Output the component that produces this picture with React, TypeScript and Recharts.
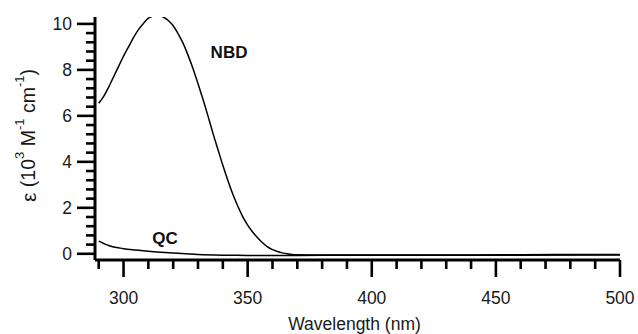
import React from "react";
import { LineChart, Line, XAxis, YAxis, ReferenceDot } from "recharts";

const nbdWavelengths = [290, 292, 294, 296, 298, 300, 302, 304, 306, 308, 310, 312, 314, 316, 318, 320, 322, 324, 326, 328, 330, 332, 334, 336, 338, 340, 342, 344, 346, 348, 350, 352, 354, 356, 358, 360, 362, 364, 366, 368, 370, 380, 400, 420, 440, 460, 480, 500];
const nbdValues = [6.55, 6.85, 7.25, 7.7, 8.15, 8.6, 9.0, 9.4, 9.75, 10.02, 10.25, 10.34, 10.36, 10.3, 10.15, 9.92, 9.57, 9.15, 8.63, 8.05, 7.4, 6.72, 6.0, 5.25, 4.55, 3.85, 3.2, 2.6, 2.08, 1.62, 1.25, 0.95, 0.7, 0.48, 0.3, 0.18, 0.1, 0.04, 0.0, -0.03, -0.04, -0.05, -0.05, -0.05, -0.05, -0.04, -0.03, -0.03];

const qcWavelengths = [290, 292, 294, 296, 298, 300, 305, 310, 315, 320, 325, 330, 340, 350, 370, 400, 450, 500];
const qcValues = [0.55, 0.45, 0.36, 0.3, 0.26, 0.22, 0.16, 0.11, 0.07, 0.03, 0.0, -0.03, -0.06, -0.07, -0.07, -0.06, -0.06, -0.05];

const xTicks = [290, 300, 310, 320, 330, 340, 350, 360, 370, 380, 390, 400, 410, 420, 430, 440, 450, 460, 470, 480, 490, 500];
const xMajor = [300, 350, 400, 450, 500];
const yTicks = [0, 0.4, 0.8, 1.2, 1.6, 2, 2.4, 2.8, 3.2, 3.6, 4, 4.4, 4.8, 5.2, 5.6, 6, 6.4, 6.8, 7.2, 7.6, 8, 8.4, 8.8, 9.2, 9.6, 10];
const yMajor = [0, 2, 4, 6, 8, 10];

const seriesLabels = [
  { name: "NBD", wl: 342.5, v: 8.74 },
  { name: "QC", wl: 316.7, v: 0.65 },
];

const nbdData = nbdWavelengths.map((wl, i) => ({ wl, v: nbdValues[i] }));
const qcData = qcWavelengths.map((wl, i) => ({ wl, v: qcValues[i] }));

const FONT = "'Liberation Sans', Arial, sans-serif";
const TEXT = "#1a1a1a";

const isMajor = (arr: number[], v: number) => arr.some((m) => Math.abs(m - v) < 1e-6);

const XTick = (props: any) => {
  const { x, y, payload } = props;
  const major = isMajor(xMajor, payload.value);
  return (
    <g>
      <line x1={x} x2={x} y1={y} y2={y + (major ? 17 : 9)} stroke="#000" strokeWidth={2.6} />
      {major && (
        <text x={x} y={y + 38} textAnchor="middle" dominantBaseline="central" fontSize={17.5} fontFamily={FONT} fill={TEXT}>
          {payload.value}
        </text>
      )}
    </g>
  );
};

const YTick = (props: any) => {
  const { x, y, payload } = props;
  const major = isMajor(yMajor, payload.value);
  return (
    <g>
      <line x1={x - (major ? 18 : 9)} x2={x} y1={y} y2={y} stroke="#000" strokeWidth={2.6} />
      {major && (
        <text x={x - 23} y={y} textAnchor="end" dominantBaseline="central" fontSize={17.5} fontFamily={FONT} fill={TEXT}>
          {payload.value}
        </text>
      )}
    </g>
  );
};

const XLabel = (props: any) => {
  const vb = props.viewBox || { x: 0, y: 0, width: 0, height: 0 };
  return (
    <text
      x={vb.x + vb.width / 2 - 3}
      y={vb.y + vb.height - 10.5}
      textAnchor="middle"
      dominantBaseline="central"
      fontSize={17.5}
      fontFamily={FONT}
      fill={TEXT}
    >
      Wavelength (nm)
    </text>
  );
};

const YLabel = (props: any) => {
  const vb = props.viewBox || { x: 0, y: 0, width: 0, height: 0 };
  const cx = 28;
  const cy = vb.y + vb.height / 2 - 3;
  return (
    <text
      x={cx}
      y={cy}
      transform={`rotate(-90, ${cx}, ${cy})`}
      textAnchor="middle"
      dominantBaseline="central"
      fontSize={19.5}
      fontFamily={FONT}
      fill={TEXT}
    >
      <tspan fontSize={21}>ε</tspan>
      <tspan> (10</tspan>
      <tspan fontSize={13} dy={-9}>3</tspan>
      <tspan dy={9}> M</tspan>
      <tspan fontSize={13} dy={-9}>-1</tspan>
      <tspan dy={9}> cm</tspan>
      <tspan fontSize={13} dy={-9}>-1</tspan>
      <tspan dy={9}>)</tspan>
    </text>
  );
};

const SeriesLabel = (name: string) => (props: any) => {
  const vb = props.viewBox || {};
  const cx = vb.cx ?? vb.x ?? 0;
  const cy = vb.cy ?? vb.y ?? 0;
  return (
    <text x={cx} y={cy} textAnchor="middle" dominantBaseline="central" fontSize={17} fontWeight="bold" fontFamily={FONT} fill="#111">
      {name}
    </text>
  );
};

export default function App() {
  return (
    <div style={{ position: "fixed", left: 0, top: 0, width: 638, height: 334, background: "#fff" }}>
      <LineChart width={638} height={334} margin={{ top: 17, right: 18, bottom: 0, left: 0 }}>
        <XAxis
          type="number"
          dataKey="wl"
          domain={[288.5, 500]}
          ticks={xTicks}
          interval={0}
          allowDataOverflow
          height={74}
          tickSize={0}
          tickMargin={0}
          tickLine={false}
          axisLine={{ stroke: "#000", strokeWidth: 3 }}
          tick={<XTick />}
          label={{ content: <XLabel /> }}
        />
        <YAxis
          type="number"
          domain={[-0.27, 10.3]}
          ticks={yTicks}
          interval={0}
          allowDataOverflow
          width={95}
          tickSize={0}
          tickMargin={0}
          tickLine={false}
          axisLine={{ stroke: "#000", strokeWidth: 3 }}
          tick={<YTick />}
          label={{ content: <YLabel /> }}
        />
        <Line data={nbdData} dataKey="v" type="monotone" stroke="#000" strokeWidth={1.5} dot={false} isAnimationActive={false} />
        <Line data={qcData} dataKey="v" type="monotone" stroke="#000" strokeWidth={1.5} dot={false} isAnimationActive={false} />
        {seriesLabels.map((s) => (
          <ReferenceDot key={s.name} x={s.wl} y={s.v} r={0} stroke="none" fill="none" label={{ content: SeriesLabel(s.name) }} />
        ))}
      </LineChart>
    </div>
  );
}
